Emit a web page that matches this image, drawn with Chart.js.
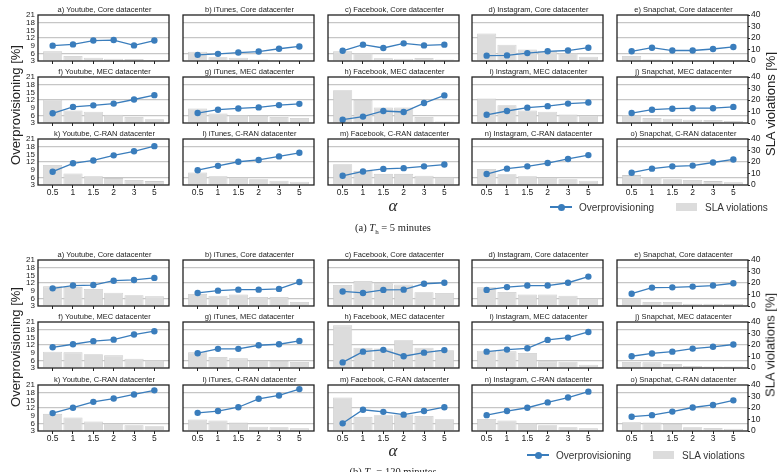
<!DOCTYPE html>
<html>
<head>
<meta charset="utf-8">
<script src="https://cdn.jsdelivr.net/npm/chart.js@4.4.1/dist/chart.umd.min.js"></script>
<style>
  body { margin: 0; background: #fff; width: 777px; height: 472px; overflow: hidden; position: relative;
         font-family: "Liberation Sans", Arial, sans-serif; }
  canvas { position: absolute; }
  .lbl { position: absolute; white-space: nowrap; color: #222; }
  .rot { transform: translate(-50%, -50%) rotate(-90deg); font-size: 13px; }
  .alpha { font-family: "Liberation Serif", serif; font-style: italic; font-size: 17px; transform: translate(-50%, -50%); }
  .cap { font-family: "Liberation Serif", serif; font-size: 10.5px; transform: translate(-50%, -50%); }
  .leg { font-size: 10px; color: #333; transform: translateY(-50%); }
</style>
</head>
<body>
<script>
const alphas = ["0.5", "1", "1.5", "2", "3", "5"];
const apps = ["Youtube", "iTunes", "Facebook", "Instagram", "Snapchat"];
const centers = ["Core", "MEC", "C-RAN"];
const leftTicks = [3, 6, 9, 12, 15, 18, 21];
const rightTicks = [0, 10, 20, 30, 40];

// T_h = 5 minutes
const over5Core = [
  [9.0, 9.5, 11.0, 11.2, 9.1, 11.0],
  [5.4, 5.8, 6.3, 6.7, 7.8, 8.7],
  [7.0, 9.4, 8.1, 9.9, 9.1, 9.4],
  [5.1, 5.2, 6.1, 6.8, 7.1, 8.2],
  [6.8, 8.2, 7.1, 7.1, 7.7, 8.5]
];
const sla5Core = [
  [8.4, 4.3, 2.9, 2.0, 1.7, 0.5],
  [8.1, 3.2, 2.9, 1.2, 0.3, 0.2],
  [8.4, 7.0, 2.3, 2.0, 2.6, 1.4],
  [24.0, 14.2, 9.9, 9.0, 7.0, 3.8],
  [4.3, 1.4, 0.9, 0.6, 0.6, 0.3]
];
const over5Mec = [
  [6.8, 9.3, 9.9, 10.6, 12.2, 13.9],
  [6.9, 8.2, 8.7, 9.1, 10.0, 10.5],
  [4.3, 5.5, 7.7, 7.3, 10.8, 13.8],
  [6.2, 7.7, 9.0, 9.6, 10.6, 11.0],
  [6.9, 8.2, 8.6, 8.8, 8.8, 9.3]
];
const sla5Mec = [
  [20.4, 10.9, 9.8, 7.2, 5.2, 3.2],
  [12.7, 8.3, 6.9, 6.3, 5.2, 4.3],
  [28.5, 20.1, 13.5, 13.5, 5.2, 1.2],
  [21.3, 15.5, 10.9, 9.8, 7.5, 6.6],
  [6.9, 4.3, 3.7, 2.9, 2.6, 1.7]
];
const over5Cran = [
  [8.2, 11.5, 12.6, 14.6, 16.2, 18.2],
  [8.8, 10.5, 12.1, 12.8, 14.2, 15.6],
  [6.6, 8.3, 9.3, 9.6, 10.3, 11.0],
  [7.3, 9.4, 10.3, 11.6, 13.2, 14.7],
  [7.8, 9.4, 10.3, 10.6, 11.8, 13.0]
];
const sla5Cran = [
  [17.4, 10.0, 7.7, 6.0, 4.3, 3.4],
  [10.9, 7.7, 6.6, 5.1, 3.7, 2.9],
  [18.0, 12.3, 9.7, 9.7, 8.0, 7.1],
  [14.0, 9.4, 7.7, 6.6, 5.1, 3.7],
  [8.6, 6.9, 5.1, 4.3, 3.4, 2.3]
];

// T_h = 120 minutes
const over120Core = [
  [9.9, 11.0, 11.2, 12.9, 13.2, 14.0],
  [8.1, 9.0, 9.4, 9.4, 9.7, 12.4],
  [8.7, 8.1, 9.3, 9.4, 11.7, 12.1],
  [9.3, 10.4, 11.0, 11.0, 12.1, 14.5],
  [7.8, 10.2, 10.3, 10.6, 11.0, 11.9]
];
const sla120Core = [
  [17.1, 16.5, 14.8, 11.6, 9.3, 8.4],
  [10.4, 9.0, 9.9, 7.8, 7.8, 3.5],
  [18.3, 21.7, 19.7, 18.8, 11.9, 11.3],
  [16.2, 12.2, 9.9, 10.1, 9.0, 6.7],
  [6.7, 3.5, 3.5, 2.0, 2.0, 1.7]
];
const over120Mec = [
  [11.1, 12.3, 13.5, 14.1, 16.1, 17.4],
  [8.8, 10.5, 10.5, 11.9, 12.3, 13.6],
  [5.2, 9.4, 10.1, 7.6, 9.0, 10.0],
  [9.4, 10.2, 10.7, 14.0, 14.9, 17.1],
  [7.6, 8.7, 9.4, 10.6, 11.3, 12.2]
];
const sla120Mec = [
  [14.2, 13.6, 11.9, 11.0, 8.1, 7.0],
  [13.6, 9.6, 8.4, 6.7, 6.1, 5.2],
  [37.1, 17.7, 17.0, 24.1, 17.7, 15.4],
  [15.1, 14.5, 13.0, 5.8, 5.5, 2.9],
  [5.2, 4.9, 3.5, 1.7, 1.4, 1.2]
];
const over120Cran = [
  [10.0, 12.1, 14.4, 15.7, 17.3, 18.9],
  [10.1, 10.8, 12.3, 15.6, 16.9, 19.4],
  [6.0, 11.3, 10.5, 9.4, 10.8, 12.3],
  [9.2, 10.8, 12.1, 14.2, 16.1, 18.4],
  [8.6, 9.2, 10.6, 12.2, 13.2, 15.0]
];
const sla120Cran = [
  [14.9, 11.7, 8.2, 6.7, 5.0, 4.1],
  [9.9, 9.1, 7.3, 3.8, 3.2, 2.3],
  [29.2, 12.3, 13.7, 14.3, 13.1, 10.2],
  [10.5, 9.1, 7.0, 5.0, 3.2, 2.3],
  [7.6, 7.3, 6.1, 3.2, 2.6, 2.0]
];

const figures = [
  { over: [over5Core, over5Mec, over5Cran], sla: [sla5Core, sla5Mec, sla5Cran], tops: [15, 77, 139] },
  { over: [over120Core, over120Mec, over120Cran], sla: [sla120Core, sla120Mec, sla120Cran], tops: [260, 322, 385] }
];

const colLeft = [38, 183, 328, 472, 617];
const PW = 131, PH = 46, LW = 24, RW = 26, TH = 14, BH = 16;
const FONT = "'Liberation Sans', Arial, sans-serif";
const BLUE = "#3a7dbc";

const framePlugin = {
  id: "frame",
  afterDatasetsDraw(chart) {
    const a = chart.chartArea, c = chart.ctx;
    c.save();
    c.strokeStyle = "#222";
    c.lineWidth = 1.3;
    c.strokeRect(a.left, a.top, a.right - a.left, a.bottom - a.top);
    c.restore();
  }
};

function makePanel(fig, row, col) {
  const cv = document.createElement("canvas");
  cv.width = LW + PW + RW;
  cv.height = TH + PH + BH;
  cv.style.left = (colLeft[col] - LW) + "px";
  cv.style.top = (fig.tops[row] - TH) + "px";
  document.body.appendChild(cv);

  const letter = "abcdefghijklmno"[row * 5 + col];
  const over = fig.over[row][col];
  const sla = fig.sla[row][col];

  new Chart(cv, {
    type: "bar",
    data: {
      datasets: [
        {
          type: "line",
          data: over.map((v, i) => ({ x: i, y: v })),
          yAxisID: "y",
          borderColor: BLUE,
          backgroundColor: BLUE,
          borderWidth: 1.3,
          pointRadius: 3.2,
          pointBorderWidth: 0,
          order: 1
        },
        {
          type: "bar",
          data: sla.map((v, i) => ({ x: i, y: v })),
          yAxisID: "y1",
          backgroundColor: "#dcdcdc",
          borderColor: "#cbcbcb",
          borderWidth: 0.8,
          barPercentage: 0.94,
          categoryPercentage: 1,
          order: 2
        }
      ]
    },
    options: {
      responsive: false,
      animation: false,
      devicePixelRatio: 1,
      layout: { padding: 0 },
      plugins: {
        legend: { display: false },
        tooltip: { enabled: false },
        title: {
          display: true,
          text: letter + ") " + apps[col] + ", " + centers[row] + " datacenter",
          color: "#222",
          font: { size: 7.5, family: FONT, weight: "normal" },
          padding: { top: 4.5, bottom: 0.5 }
        }
      },
      scales: {
        x: {
          type: "linear",
          min: -0.72,
          max: 5.72,
          offset: false,
          afterBuildTicks: s => { s.ticks = alphas.map((_, i) => ({ value: i })); },
          afterFit: s => { s.height = BH; },
          grid: { offset: false, drawOnChartArea: false, drawTicks: true, tickLength: 3, tickColor: "#222" },
          border: { display: false },
          ticks: {
            color: row === 2 ? "#222" : "rgba(0,0,0,0)",
            padding: 0,
            autoSkip: false,
            maxRotation: 0,
            font: { size: 8.5, family: FONT },
            callback: v => alphas[v]
          }
        },
        y: {
          position: "left",
          min: 3,
          max: 21,
          afterBuildTicks: s => { s.ticks = leftTicks.map(v => ({ value: v })); },
          afterFit: s => { s.width = LW; },
          grid: {
            color: ctx => [6, 12, 18].includes(ctx.tick && ctx.tick.value) ? "#c6c6c6" : "rgba(0,0,0,0)",
            lineWidth: 1.2,
            drawTicks: false
          },
          border: { display: false },
          ticks: {
            color: col === 0 ? "#222" : "rgba(0,0,0,0)",
            padding: 3,
            autoSkip: false,
            font: { size: 8, family: FONT }
          }
        },
        y1: {
          position: "right",
          min: 0,
          max: 40,
          afterBuildTicks: s => { s.ticks = rightTicks.map(v => ({ value: v })); },
          afterFit: s => { s.width = RW; },
          grid: { drawOnChartArea: false, tickLength: 2, tickColor: col === 4 ? "#222" : "rgba(0,0,0,0)" },
          border: { display: false },
          ticks: {
            color: col === 4 ? "#222" : "rgba(0,0,0,0)",
            padding: 1,
            autoSkip: false,
            font: { size: 8.5, family: FONT }
          }
        }
      }
    },
    plugins: [framePlugin]
  });
}

figures.forEach(fig => {
  for (let r = 0; r < 3; r++) for (let c = 0; c < 5; c++) makePanel(fig, r, c);
});

function addLabel(html, cls, x, y) {
  const d = document.createElement("div");
  d.className = "lbl " + cls;
  d.innerHTML = html;
  d.style.left = x + "px";
  d.style.top = y + "px";
  document.body.appendChild(d);
  return d;
}

function addBox(x, y, w, h, style) {
  const d = document.createElement("div");
  d.style.position = "absolute";
  d.style.left = x + "px";
  d.style.top = y + "px";
  d.style.width = w + "px";
  d.style.height = h + "px";
  Object.assign(d.style, style);
  document.body.appendChild(d);
}

function addLegend(x0, y) {
  addBox(x0, y - 0.75, 22, 1.5, { background: BLUE });
  addBox(x0 + 7.5, y - 3.5, 7, 7, { background: BLUE, borderRadius: "50%" });
  addLabel("Overprovisioning", "leg", x0 + 29, y);
  addBox(x0 + 126, y - 4, 21, 8, { background: "#dcdcdc" });
  addLabel("SLA violations", "leg", x0 + 155, y);
}

// figure (a)
addLabel("Overprovisioning [%]", "rot", 15, 105);
addLabel("SLA violations [%]", "rot", 770, 104);
addLabel("α", "alpha", 393, 206);
addLabel("(a) <i>T</i><sub style='font-size:7px'>h</sub> = 5 minutes", "cap", 393, 229);
addLegend(550, 207);

// figure (b)
addLabel("Overprovisioning [%]", "rot", 15, 347);
addLabel("SLA violations [%]", "rot", 770, 345);
addLabel("α", "alpha", 393, 451);
addLabel("(b) <i>T</i><sub style='font-size:7px'>h</sub> = 120 minutes", "cap", 393, 473);
addLegend(527, 455);
</script>
</body>
</html>
